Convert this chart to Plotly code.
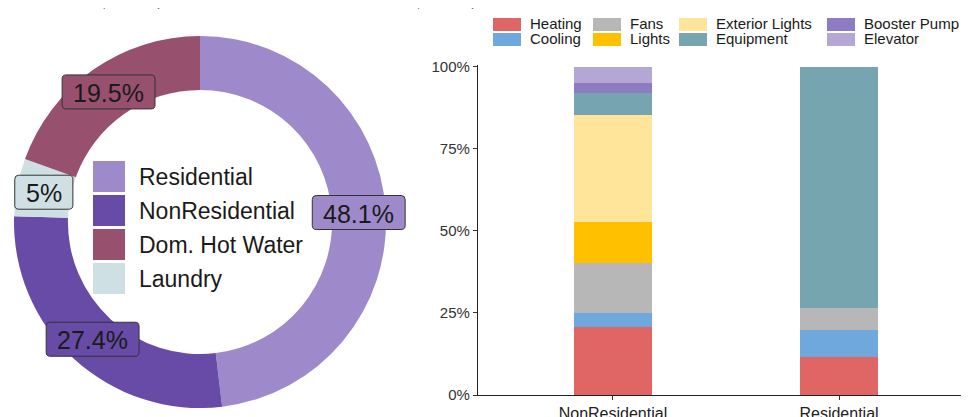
import numpy as np
import plotly.graph_objects as go

# page body has an 8px margin; figure fills the rest of the 969x417 window
OX, OY = 8, 8
W, H = 969 - OX, 417 - OY

# ---------------- data ----------------
end_uses = ["Residential", "NonResidential", "Laundry", "Dom. Hot Water"]
end_use_shares = [48.1, 27.4, 5.0, 19.5]
end_use_colors = ["#9E8ACA", "#684BA7", "#CFE0E4", "#98506F"]
donut_legend_order = ["Residential", "NonResidential", "Dom. Hot Water", "Laundry"]

categories = ["NonResidential", "Residential"]
series_names = ["Heating", "Cooling", "Fans", "Lights", "Exterior Lights",
                "Equipment", "Booster Pump", "Elevator"]
heating = [20.8, 11.7]
cooling = [4.1, 8.1]
fans = [15.2, 6.6]
lights = [12.7, 0.0]
exterior_lights = [32.7, 0.0]
equipment = [6.7, 73.6]
booster_pump = [3.0, 0.0]
elevator = [4.8, 0.0]
series_values = [heating, cooling, fans, lights, exterior_lights,
                 equipment, booster_pump, elevator]
series_colors = ["#E06666", "#6FA8DC", "#B7B7B7", "#FFC000", "#FFE599",
                 "#76A5AF", "#8E7CC3", "#B4A7D6"]

y_ticks = [0, 25, 50, 75, 100]
y_tick_labels = [f"{v}%" for v in y_ticks]


def px(x):
    return (x - OX) / W


def py(y):
    return 1 - (y - OY) / H


def round_rect(xc, yc, w, h, r):
    x0, x1 = xc - w / 2, xc + w / 2
    y0, y1 = yc - h / 2, yc + h / 2
    P = lambda x, y: f"{px(x):.6f},{py(y):.6f}"
    return (f"M {P(x0 + r, y0)} L {P(x1 - r, y0)} Q {P(x1, y0)} {P(x1, y0 + r)} "
            f"L {P(x1, y1 - r)} Q {P(x1, y1)} {P(x1 - r, y1)} "
            f"L {P(x0 + r, y1)} Q {P(x0, y1)} {P(x0, y1 - r)} "
            f"L {P(x0, y0 + r)} Q {P(x0, y0)} {P(x0 + r, y0)} Z")


fig = go.Figure()

# ---------------- donut ----------------
cx, cy, R = 200, 222, 186
fig.add_trace(go.Pie(
    labels=end_uses, values=end_use_shares, sort=False, direction="clockwise",
    rotation=0, hole=0.71, textinfo="none", showlegend=False,
    marker=dict(colors=end_use_colors, line=dict(width=0)),
    domain=dict(x=[px(cx - R), px(cx + R)], y=[py(cy + R), py(cy - R)]),
))

annotations = []
shapes = []

# slice labels
vals = np.array(end_use_shares, dtype=float)
cum = np.cumsum(vals)
mid = (cum - vals / 2) / vals.sum() * 2 * np.pi
r_lab = 159
lab_font = 25


def text_w(s, size):
    w = 0
    for ch in s:
        w += {".": 0.278, "%": 0.889}.get(ch, 0.556)
    return w * size


for name, v, a, col in zip(end_uses, end_use_shares, mid, end_use_colors):
    txt = f"{v:g}%"
    x = cx + r_lab * np.sin(a)
    y = cy - r_lab * np.cos(a)
    bw = text_w(txt, lab_font) + 22
    shapes.append(dict(type="path", xref="paper", yref="paper",
                       path=round_rect(x, y, bw, 34, 4),
                       fillcolor=col, line=dict(color="#333333", width=1)))
    annotations.append(dict(
        x=px(x), y=py(y + 1), xref="paper", yref="paper", text=txt, showarrow=False,
        font=dict(family="Liberation Sans, Arial", size=lab_font, color="#1a1a1a"),
        xanchor="center", yanchor="middle",
    ))

# donut legend in the hole
sw_x0, sw_x1 = 93, 125
row_top, row_h = 161, 34
for i, name in enumerate(donut_legend_order):
    col = end_use_colors[end_uses.index(name)]
    y0 = row_top + i * row_h
    shapes.append(dict(type="rect", xref="paper", yref="paper",
                       x0=px(sw_x0), x1=px(sw_x1), y0=py(y0), y1=py(y0 + row_h - 3),
                       fillcolor=col, line=dict(width=0)))
    annotations.append(dict(
        x=px(137), y=py(y0 + (row_h - 3) / 2), xref="paper", yref="paper",
        text=name, showarrow=False, xanchor="left", yanchor="middle",
        font=dict(family="Liberation Sans, Arial", size=23, color="#1a1a1a"),
    ))

# ---------------- stacked bars ----------------
for name, vals_s, col in zip(series_names, series_values, series_colors):
    fig.add_trace(go.Bar(
        x=categories, y=vals_s, name=name, marker=dict(color=col, line=dict(width=0)),
        width=0.345, showlegend=False, xaxis="x", yaxis="y",
    ))

# bar legend (2 rows, column-major)
col_sw_x = [493, 593, 679, 827]
row_sw_y = [18, 33]
for i, (name, col) in enumerate(zip(series_names, series_colors)):
    c, r = i // 2, i % 2
    x0 = col_sw_x[c]
    y0 = row_sw_y[r]
    shapes.append(dict(type="rect", xref="paper", yref="paper",
                       x0=px(x0), x1=px(x0 + 28), y0=py(y0), y1=py(y0 + 13),
                       fillcolor=col, line=dict(width=0)))
    annotations.append(dict(
        x=px(x0 + 35), y=py(y0 + 5.5), xref="paper", yref="paper", text=name,
        showarrow=False, xanchor="left", yanchor="middle",
        font=dict(family="Liberation Sans, Arial", size=15, color="#1a1a1a"),
    ))

# clipped caption text at the very top
annotations.append(dict(
    x=px(36), y=py(-7), xref="paper", yref="paper",
    text="ouse (27%) and residential loads (48%).", showarrow=False,
    xanchor="left", yanchor="middle",
    font=dict(family="Liberation Serif, Times New Roman", size=28, color="#111111"),
))

y0_px, ytop_px = 395, 65
fig.update_layout(
    width=W, height=H, margin=dict(l=0, r=0, t=0, b=0),
    paper_bgcolor="white", plot_bgcolor="white", barmode="stack",
    showlegend=False,
    xaxis=dict(domain=[px(478), 1], range=[-0.597, 1.575], type="category",
               showline=True, linecolor="#222222", linewidth=1.2,
               ticks="outside", ticklen=4, tickcolor="#333333", showgrid=False,
               zeroline=False, automargin=False,
               tickfont=dict(family="Liberation Sans, Arial", size=16, color="#222222")),
    yaxis=dict(domain=[py(y0_px), py(ytop_px)], range=[0, 100.6],
               tickvals=y_ticks, ticktext=y_tick_labels,
               showline=True, linecolor="#222222", linewidth=1.2,
               ticks="outside", ticklen=4, tickcolor="#333333", showgrid=False,
               zeroline=False, automargin=False,
               tickfont=dict(family="Liberation Sans, Arial", size=15, color="#333333")),
    shapes=shapes, annotations=annotations,
)

fig.write_html("out.html")
